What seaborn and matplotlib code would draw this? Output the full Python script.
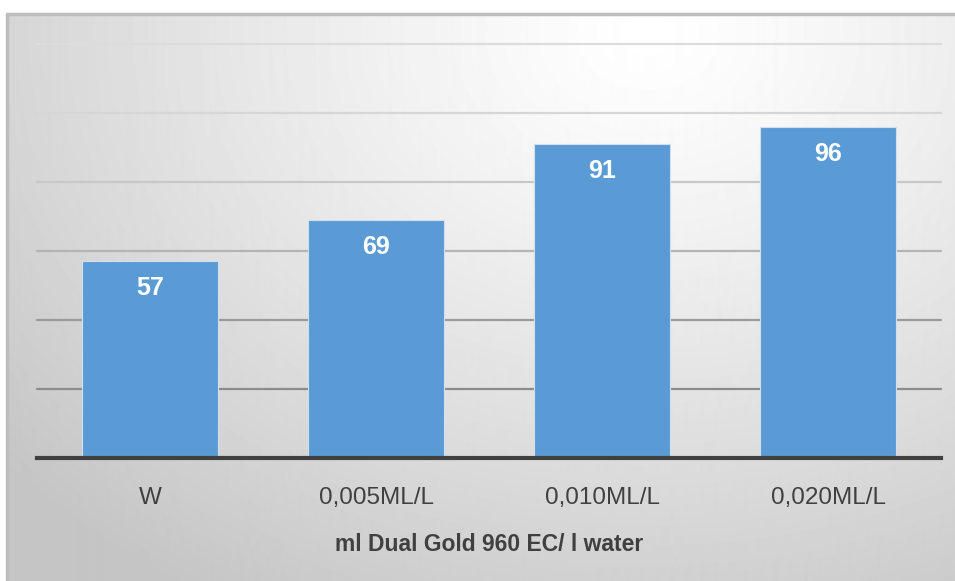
import numpy as np
import pandas as pd
import matplotlib
matplotlib.use("Agg")
import matplotlib.pyplot as plt
import seaborn as sns

categories = ["W", "0,005ML/L", "0,010ML/L", "0,020ML/L"]
values = [57, 69, 91, 96]
x_title = "ml Dual Gold 960 EC/ l water"

df = pd.DataFrame({"dose": categories, "value": values})

sns.set_theme(style="white")
plt.rcParams["font.family"] = ["Liberation Sans", "DejaVu Sans"]

W, H = 955, 581
fig = plt.figure(figsize=(W / 100, H / 100), dpi=100)
fig.patch.set_facecolor("white")

# Backdrop panel with a soft radial gradient
bg = fig.add_axes([7 / W, 0, 1 - 7 / W, 1 - 14 / H])
bg.set_axis_off()
yy, xx = np.mgrid[0:567, 0:948]
cx, cy = 640, 20
r = np.sqrt(((xx - cx) / 900) ** 2 + ((yy - cy) / 700) ** 2)
r = np.clip(r / 0.95, 0, 1)
shade = 1.0 - 0.23 * r ** 1.2
bg.imshow(shade, cmap="gray", vmin=0, vmax=1, aspect="auto",
          extent=[0, 1, 0, 1], interpolation="bilinear")
bg.set_xlim(0, 1)
bg.set_ylim(0, 1)
bg.plot([0, 1], [1, 1], color="#bdbdbd", lw=2.5, transform=bg.transAxes, clip_on=False)
bg.plot([0, 0], [0, 1], color="#bdbdbd", lw=2.5, transform=bg.transAxes, clip_on=False)

left, right = 37 / W, 941 / W
bottom, top = 1 - 458 / H, 1 - 44 / H
ax = fig.add_axes([left, bottom, right - left, top - bottom])
ax.patch.set_alpha(0)

# Horizontal gridlines, lighter toward the top
grid_vals = [20, 40, 60, 80, 100, 120]
grid_cols = ["#8c8c8c", "#9a9a9a", "#b4b4b4", "#c8c8c8", "#d6d6d6", "#dcdcdc"]
for gv, gc in zip(grid_vals, grid_cols):
    ax.axhline(gv, color=gc, lw=1.6, zorder=0, clip_on=False)

sns.barplot(data=df, x="dose", y="value", ax=ax, color="#5b9bd5",
            saturation=1, width=0.605, edgecolor="#cfe0f1", linewidth=0.8,
            zorder=2)

for i, v in enumerate(values):
    ax.text(i, v - 7.8, f"{v}", ha="center", va="center", color="white",
            fontsize=18, fontweight="bold", zorder=3)

ax.set_xlim(-0.5, 3.5)
ax.set_ylim(0, 120)
ax.set_yticks([])
for s in ["top", "right", "left"]:
    ax.spines[s].set_visible(False)
ax.spines["bottom"].set_color("#404040")
ax.spines["bottom"].set_linewidth(3)
ax.spines["bottom"].set_zorder(4)
ax.tick_params(axis="x", length=0, pad=21, labelsize=17.5, labelcolor="#404040")
ax.set_xlabel(x_title, fontsize=16.5, fontweight="bold", color="#404040", labelpad=17)
ax.set_ylabel("")

fig.savefig("out.png", dpi=100)
